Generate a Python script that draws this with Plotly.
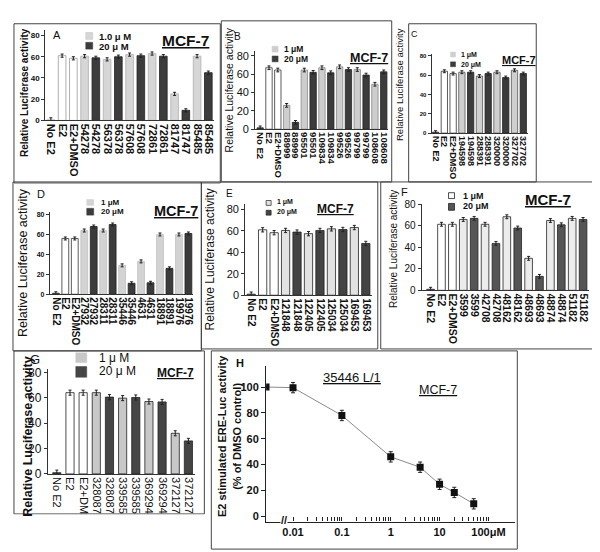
import plotly.graph_objects as go

W, H = 600, 552
FONT = "Liberation Sans, Arial, sans-serif"

# ---------------- DATA ----------------
A_labels = ["No E2", "E2", "E2+DMSO", "54278", "54278", "56378", "56378", "57608", "57608",
            "72861", "72861", "81747", "81747", "85485", "85485"]
A_values = [1, 61, 58.5, 60.5, 59, 57.5, 60, 62, 61, 63, 60.5, 25, 9.5, 60.5, 45]

B_labels = ["No E2", "E2", "E2+DMSO", "88999", "88999", "95501", "95501", "109834", "109834",
            "99526", "99526", "99799", "99799", "108608", "108608"]
B_values = [1.5, 67, 64.5, 26, 7.5, 64.5, 62, 67, 61.5, 68, 65, 65, 59, 49, 62.5]

C_labels = ["No E2", "E2", "E2+DMSO", "194598", "194598", "288391", "288391", "320000", "320000",
            "327702", "327702"]
C_values = [1, 64, 61.6, 63, 63, 59, 61.6, 63, 57.5, 65, 61.6]

D_labels = ["No E2", "E2", "E2+DMSO", "27932", "27932", "28311", "28311", "35446", "35446",
            "4631", "4631", "18891", "18891", "19976", "19976"]
D_values = [1, 56, 56, 64, 68, 64, 70, 29, 11, 33, 11.5, 60, 26, 60, 61]

E_labels = ["No E2", "E2", "E2+DMSO", "121848", "121848", "122405", "122405", "125034", "125034",
            "169453", "169453"]
E_values = [1, 60.9, 58.2, 60.3, 58.8, 57.3, 60.3, 61.8, 61.2, 63, 48.2]

F_labels = ["No E2", "E2", "E2+DMSO", "3599", "3599", "42708", "42708", "48162", "48162",
            "48693", "48693", "48874", "48874", "51182", "51182"]
F_values = [1, 61.5, 61.5, 66, 67, 61.5, 43.7, 68.5, 58, 29.8, 13, 65, 61, 67, 66]

G_labels = ["No E2", "E2", "E2+DMSO", "328087", "328087", "339585", "339585", "369294", "369294",
            "372127", "372127"]
G_values = [1, 64, 64, 64, 60.5, 59.7, 60.2, 57, 56.7, 32, 26]

Y_TICKS = [0, 20, 40, 60, 80]
Y_TITLE = "Relative Luciferase activity"

# Panel H: dose response of 35446 L/1 (first point = DMSO control, drawn at the axis origin)
H_conc = [0.0028, 0.01, 0.1, 1, 4, 10, 20, 50]
H_resp = [100, 99.5, 78, 46, 38, 24.8, 18.5, 9.7]
H_err = [0, 4, 4, 4, 4, 4, 4, 4]
H_tick_vals = [0.01, 0.1, 1, 10, 100]
H_tick_text = ["0.01", "0.1", "1", "10", "100\u03bcM"]
H_y_ticks = [0, 20, 40, 60, 80, 100]


def fx(p):
    return p / W


def fy(p):
    return 1 - p / H


fig = go.Figure()
shapes = []
annotations = []


def text(px, py, s, size, bold=False, anchor="center", angle=0, color="#111"):
    if bold:
        s = "<b>" + s + "</b>"
    annotations.append(dict(x=fx(px), y=fy(py), xref="paper", yref="paper", text=s,
                            showarrow=False, xanchor=anchor, yanchor="middle", textangle=angle,
                            font=dict(family=FONT, size=size, color=color)))


def rect(x0, y0, x1, y1, fill="rgba(0,0,0,0)", line="#444", lw=1, layer="below"):
    shapes.append(dict(type="rect", xref="paper", yref="paper", x0=fx(x0), x1=fx(x1),
                       y0=fy(y1), y1=fy(y0), fillcolor=fill, line=dict(color=line, width=lw),
                       layer=layer))


# panel styles / positions
panels = [
    dict(k=1, labels=A_labels, values=A_values, axis_x=36.5, c0=42, c1=200, y0=109, u=1.0875, ymax=85,
         tickfont=dict(size=8, bold=True), labfont=dict(size=11, bold=True), frac=0.68, err=1.5,
         light="#d6d6d6", lightline="#b0b0b0", dark="#3c3c3c", ctrlline="#9a9a9a", noe2="#cfcfcf"),
    dict(k=2, labels=B_labels, values=B_values, axis_x=247, c0=252, c1=376, y0=118, u=0.94, ymax=85,
         tickfont=dict(size=11, bold=False), labfont=dict(size=9.5, bold=True), frac=0.72, err=2,
         light="#cdcdcd", lightline="#888", dark="#3c3c3c", ctrlline="#333", noe2="#333"),
    dict(k=3, labels=C_labels, values=C_values, axis_x=424, c0=428, c1=516, y0=122, u=0.99, ymax=82,
         tickfont=dict(size=6, bold=True), labfont=dict(size=9, bold=True), frac=0.72, err=1.5,
         light="#cfcfcf", lightline="#555", dark="#3c3c3c", ctrlline="#333", noe2="#333"),
    dict(k=4, labels=D_labels, values=D_values, axis_x=41, c0=47, c1=180, y0=287, u=1.02, ymax=83,
         tickfont=dict(size=7, bold=True), labfont=dict(size=10, bold=True), frac=0.72, err=1.5,
         light="#d3d3d3", lightline="#c0c0c0", dark="#3c3c3c", ctrlline="#333", noe2="#333"),
    dict(k=5, labels=E_labels, values=E_values, axis_x=237, c0=243, c1=358, y0=288, u=1.1, ymax=85,
         tickfont=dict(size=11, bold=False), labfont=dict(size=10, bold=True), frac=0.72, err=2,
         light="#e2e2e2", lightline="#222", dark="#444", ctrlline="#222", noe2="#333"),
    dict(k=6, labels=F_labels, values=F_values, axis_x=414, c0=423, c1=576, y0=283, u=1.1, ymax=80,
         tickfont=dict(size=10, bold=False), labfont=dict(size=10.5, bold=True), frac=0.7, err=1.8,
         light="#ececec", lightline="#222", dark="#555", ctrlline="#222", noe2="#333"),
    dict(k=7, labels=G_labels, values=G_values, axis_x=39, c0=48, c1=180, y0=471, u=1.3, ymax=83,
         tickfont=dict(size=12, bold=False), labfont=dict(size=11, bold=False), frac=0.62, err=2,
         light="#c8c8c8", lightline="#222", dark="#454545", ctrlline="#222", noe2="#333"),
]

layout_axes = {}
for p in panels:
    k = p["k"]
    n = len(p["labels"])
    s = (p["c1"] - p["c0"]) / (n - 1)
    right_px = p["c1"] + 0.5 * s
    r_left = -(p["c0"] - p["axis_x"]) / s
    r_right = n - 1 + 0.5
    colors, lines = [], []
    for i in range(n):
        if i == 0:
            colors.append(p["noe2"]); lines.append(p["noe2"])
        elif i < 3:
            colors.append("#ffffff"); lines.append(p["ctrlline"])
        elif (i - 3) % 2 == 0:
            colors.append(p["light"]); lines.append(p["lightline"])
        else:
            colors.append(p["dark"]); lines.append("#222")
    fig.add_trace(go.Bar(x=list(range(n)), y=p["values"], width=p["frac"],
                         marker=dict(color=colors, line=dict(color=lines, width=0.8)),
                         error_y=dict(type="constant", value=p["err"], color="#222",
                                      thickness=1, width=1.5),
                         xaxis="x%d" % k, yaxis="y%d" % k, showlegend=False))
    lf = p["labfont"]
    tf = p["tickfont"]
    layout_axes["xaxis%d" % k] = dict(
        domain=[fx(p["axis_x"]), fx(right_px)], range=[r_left, r_right], anchor="y%d" % k,
        tickmode="array", tickvals=list(range(n)),
        ticktext=[("<b>%s</b>" % t) if lf["bold"] else t for t in p["labels"]],
        tickangle=90, ticks="", showline=True, linecolor="#333", linewidth=1,
        showgrid=False, zeroline=False,
        tickfont=dict(family=FONT, size=lf["size"], color="#111"))
    layout_axes["yaxis%d" % k] = dict(
        domain=[fy(p["y0"]), fy(p["y0"] - p["ymax"] * p["u"])], range=[0, p["ymax"]],
        anchor="x%d" % k, tickmode="array", tickvals=Y_TICKS,
        ticktext=[("<b>%d</b>" % t) if tf["bold"] else str(t) for t in Y_TICKS],
        ticks="outside", ticklen=3, tickcolor="#333", showline=True, linecolor="#333",
        linewidth=1, showgrid=False, zeroline=False,
        tickfont=dict(family=FONT, size=tf["size"], color="#111"))

# ---------- panel H ----------
fig.add_trace(go.Scatter(x=H_conc, y=H_resp, mode="lines+markers",
                         line=dict(color="#8a8a8a", width=1),
                         marker=dict(symbol="square", size=7, color="#111"),
                         error_y=dict(type="data", array=H_err, color="#222", thickness=1, width=2),
                         xaxis="x8", yaxis="y8", showlegend=False))
minor_vals = [m * 10 ** e for e in range(-2, 2) for m in range(1, 10)][1:]
h_vals = sorted(set(minor_vals + H_tick_vals))
h_text = []
for v in h_vals:
    lab = ""
    for tv, tt in zip(H_tick_vals, H_tick_text):
        if abs(v - tv) < 1e-9:
            lab = "<b>" + tt + "</b>"
    h_text.append(lab)
layout_axes["xaxis8"] = dict(domain=[fx(258), fx(508)], type="log", range=[-2.55, 2.55],
                             anchor="y8", tickmode="array", tickvals=h_vals, ticktext=h_text,
                             ticks="inside", ticklen=4, tickcolor="#222", showline=True,
                             linecolor="#222", linewidth=1.2, showgrid=False, zeroline=False,
                             tickfont=dict(family=FONT, size=11, color="#111"))
hu = 1.325
layout_axes["yaxis8"] = dict(domain=[fy(514.5 + 4 * hu), fy(514.5 - 116 * hu)], range=[-4, 116],
                             anchor="x8", tickmode="array", tickvals=H_y_ticks,
                             ticktext=["<b>%d</b>" % t for t in H_y_ticks],
                             ticks="outside", ticklen=4, tickcolor="#222", showline=True,
                             linecolor="#222", linewidth=1.2, showgrid=False, zeroline=False,
                             tickfont=dict(family=FONT, size=11, color="#111"))

# ---------- frames ----------
rect(5, 10, 212, 173)
rect(213, 7, 384, 172)
rect(401, 10, 529, 172)
rect(4, 172, 193, 345)
rect(193, 172, 370, 343)
rect(373, 172, 586, 343)
rect(5, 345, 196, 512)
rect(203, 345, 510, 548)
# panel G's labels are cut off by the bottom of its frame in the original
rect(0, 512.6, 200, 552, fill="#ffffff", line="#ffffff", lw=0, layer="above")

# ---------- panel texts / legends ----------
# A
text(48, 22, "A", 11)
rect(77, 19, 84, 26, fill="#d6d6d6", line="#c0c0c0", lw=0.5)
rect(77, 29, 84, 36, fill="#3c3c3c", line="#3c3c3c", lw=0.5)
text(88, 23, "1.0 \u03bc M", 9.5, bold=True, anchor="left")
text(88, 33, "20 \u03bc M", 9.5, bold=True, anchor="left")
text(177, 27, "<u>MCF-7</u>", 15.5, bold=True)
text(15, 80, Y_TITLE, 10, bold=True, angle=-90)
# B
text(229, 23, "B", 10)
rect(264, 33, 270, 39, fill="#cdcdcd", line="#cdcdcd", lw=0.5)
rect(264, 43, 270, 49, fill="#3c3c3c", line="#3c3c3c", lw=0.5)
text(274, 36, "1 \u03bcM", 8.5, bold=True, anchor="left")
text(274, 46, "20 \u03bcM", 8.5, bold=True, anchor="left")
text(361, 45, "<u>MCF-7</u>", 12.5, bold=True)
text(221, 78, Y_TITLE, 10.5, angle=-90)
# C
text(407, 20, "C", 9)
rect(443, 39, 448, 44, fill="#cfcfcf", line="#cfcfcf", lw=0.5)
rect(443, 49, 448, 54, fill="#3c3c3c", line="#3c3c3c", lw=0.5)
text(452, 42, "1 \u03bcM", 7, bold=True, anchor="left")
text(452, 52, "20 \u03bcM", 7, bold=True, anchor="left")
text(512, 47, "<u>MCF-7</u>", 11, bold=True)
text(392, 72, Y_TITLE, 9.5, angle=-90)
# D
text(32, 184, "D", 11)
rect(78, 190, 85, 196, fill="#d3d3d3", line="#d3d3d3", lw=0.5)
rect(78, 199, 85, 206, fill="#3c3c3c", line="#3c3c3c", lw=0.5)
text(90, 193, "1 \u03bcM", 8, bold=True, anchor="left")
text(90, 202, "20 \u03bcM", 8, bold=True, anchor="left")
text(168, 202, "<u>MCF-7</u>", 14.5, bold=True)
text(14, 254, Y_TITLE, 12.5, angle=-90)
# E
text(221, 184, "E", 10)
rect(258, 191, 263, 196, fill="#e2e2e2", line="#222", lw=0.7)
rect(258, 201, 263, 206, fill="#444", line="#222", lw=0.7)
text(267, 193, "1 \u03bcM", 7, bold=True, anchor="left")
text(267, 203, "20 \u03bcM", 7, bold=True, anchor="left")
text(328, 200, "<u>MCF-7</u>", 12, bold=True)
text(202, 251, Y_TITLE, 12, angle=-90)
# F
text(397, 182, "F", 11)
rect(441, 183, 447, 189, fill="#ffffff", line="#222", lw=0.8)
rect(441, 194, 447, 201, fill="#555", line="#222", lw=0.8)
text(454, 186, "1 \u03bcM", 9, bold=True, anchor="left")
text(454, 197, "20 \u03bcM", 9, bold=True, anchor="left")
text(541, 190, "<u>MCF-7</u>", 15, bold=True)
text(386, 241, Y_TITLE, 10, angle=-90)
# G
text(26, 354, "G", 13)
rect(67, 347, 78, 357, fill="#c8c8c8", line="#c8c8c8", lw=0.5)
rect(67, 361, 78, 372, fill="#454545", line="#454545", lw=0.5)
text(88, 352, "1 \u03bc M", 12, anchor="left")
text(88, 366, "20 \u03bc M", 12, anchor="left")
text(167, 368, "<u>MCF-7</u>", 12, bold=True)
text(19, 432, Y_TITLE, 12.5, bold=True, angle=-90)
# H
text(232, 357, "H", 11, bold=True)
text(344, 372, "<u>35446 L/1</u>", 13)
text(430, 385, "<u>MCF-7</u>", 12.5)
text(221, 432, "E2 stimulated ERE-Luc activity<br>(% of DMSO control)", 11, bold=True, angle=-90)
annotations.append(dict(x=fx(276), y=fy(518), xref="paper", yref="paper", text="<b>//</b>",
                        showarrow=False, xanchor="center", yanchor="middle",
                        bgcolor="#ffffff", borderpad=0,
                        font=dict(family=FONT, size=11, color="#111")))

fig.update_layout(width=W, height=H, margin=dict(l=0, r=0, t=0, b=0),
                  paper_bgcolor="#ffffff", plot_bgcolor="rgba(0,0,0,0)",
                  shapes=shapes, annotations=annotations, showlegend=False,
                  font=dict(family=FONT, color="#111"), **layout_axes)

fig.write_html("out.html")
